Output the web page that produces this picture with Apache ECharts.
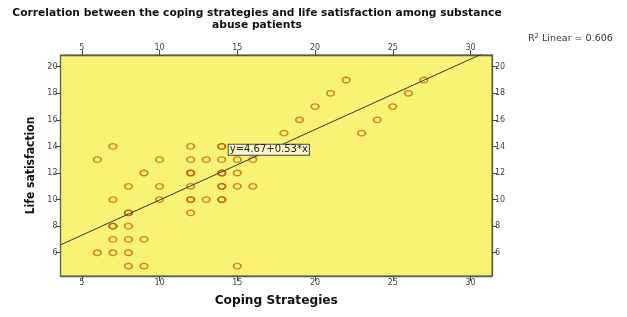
<!DOCTYPE html>
<html><head><meta charset="utf-8">
<script src="https://cdn.jsdelivr.net/npm/echarts@6/dist/echarts.min.js"></script>
<style>html,body{margin:0;padding:0;background:#fff}#c{width:627px;height:317px}</style>
</head><body><div id="c"></div>
<script>
// Data (duplicates = overlapping cases)
const coping = [22,27, 21,26, 20,25, 19,24, 18,23,
  7,12,14,14,
  6,10,12,13,14,15,16,
  9,12,12,14,14,15,
  8,10,12,14,14,15,16,
  7,10,12,12,13,14,14,
  8,8,12,
  7,7,8,
  7,8,9,
  6,7,8,
  8,9,15];
const life = [19,19, 18,18, 17,17, 16,16, 15,15,
  14,14,14,14,
  13,13,13,13,13,13,13,
  12,12,12,12,12,12,
  11,11,11,11,11,11,11,
  10,10,10,10,10,10,10,
  9,9,9,
  8,8,8,
  7,7,7,
  6,6,6,
  5,5,5];
const xTicks = [5,10,15,20,25,30];
const yTicks = [6,8,10,12,14,16,18,20];
const intercept = 4.67, slope = 0.53;
const rSquared = '0.606';
const xMin = 3.63, xMax = 31.38, yMin = 4.25, yMax = 20.88;

const points = coping.map((x,i)=>[x, life[i]]);
const fitLine = [[xMin, intercept+slope*xMin],[xMax, intercept+slope*xMax]];

const chart = echarts.init(document.getElementById('c'));
const tickLbl = {fontSize:8, color:'#444', fontFamily:'DejaVu Sans', margin:3};
const tick = {show:true, length:5, lineStyle:{color:'#444', width:1}};
function xAx(pos){return {type:'value', position:pos, min:xMin, max:xMax, splitLine:{show:false},
  axisLine:{show:true, onZero:false, lineStyle:{color:'#5a5a4a', width:1.3}},
  axisTick:Object.assign({customValues:xTicks},tick), axisLabel:Object.assign({customValues:xTicks},tickLbl)};}
function yAx(pos){return {type:'value', position:pos, min:yMin, max:yMax, splitLine:{show:false},
  axisLine:{show:true, onZero:false, lineStyle:{color:'#5a5a4a', width:1.3}},
  axisTick:Object.assign({customValues:yTicks},tick), axisLabel:Object.assign({customValues:yTicks},tickLbl)};}
const xb = xAx('bottom');
xb.name='Coping Strategies'; xb.nameLocation='middle'; xb.nameGap=19;
xb.nameTextStyle={fontSize:12.2, fontWeight:'bold', color:'#111', fontFamily:'DejaVu Sans'};
const yl = yAx('left');
yl.name='Life satisfaction'; yl.nameLocation='middle'; yl.nameGap=24;
yl.nameTextStyle={fontSize:12, fontWeight:'bold', color:'#111', fontFamily:'Liberation Sans Narrow, DejaVu Sans Condensed, Arial'};

chart.setOption({
  animation:false,
  grid:{left:60.5, top:55, right:135, bottom:41, show:true, backgroundColor:'#f9f375', borderColor:'#5a5a4a', borderWidth:1},
  xAxis:[xb, xAx('top')],
  yAxis:[yl, yAx('right')],
  graphic:[
    {type:'text', style:{text:'Correlation between the coping strategies and life satisfaction among substance\nabuse patients',
      x:257, y:7, textAlign:'center', font:'bold 10.7px "DejaVu Sans"', fill:'#111', lineHeight:12}},
    {type:'text', style:{text:'{a|R}{s|2}{a| Linear = '+rSquared+'}', x:528, y:33,
      rich:{a:{fontSize:9.5, fill:'#333', fontFamily:'DejaVu Sans'}, s:{fontSize:7, fill:'#333', fontFamily:'DejaVu Sans', verticalAlign:'top', padding:[0,0,4,0]}}}}
  ],
  series:[
    {type:'scatter', data:points, symbol:'circle', symbolSize:[7.5,5.5],
      itemStyle:{color:'rgba(0,0,0,0)', borderColor:'rgba(180,80,0,0.85)', borderWidth:1.5}},
    {type:'line', data:fitLine, clip:true, symbol:'none', lineStyle:{color:'#333', width:1},
      markPoint:{symbol:'circle', symbolSize:0, silent:true,
        data:[{coord:[14.45, 13.75], value:0}],
        label:{show:true, position:'right', distance:0, formatter:'y='+intercept+'+'+slope+'*x',
          fontSize:10, color:'#222', fontFamily:'DejaVu Sans', backgroundColor:'#fbf9c8',
          borderColor:'#444', borderWidth:1, padding:[0,1,0,1]}}}
  ]
});
</script></body></html>
